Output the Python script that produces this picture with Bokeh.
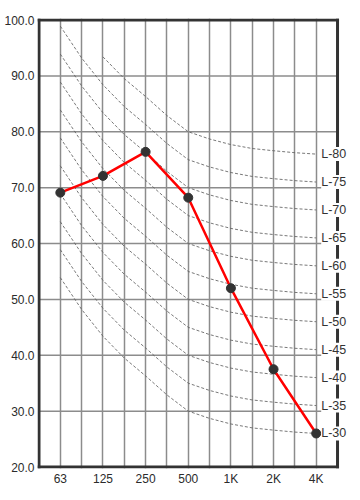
from bokeh.plotting import figure
from bokeh.models import Range1d, FixedTicker, Label, NumeralTickFormatter
from bokeh.embed import file_html
from bokeh.resources import INLINE

# ---- data -------------------------------------------------------------
bands = ["63", "125", "250", "500", "1K", "2K", "4K"]
measured = [69.1, 72.1, 76.4, 68.2, 52.0, 37.5, 26.0]

y_ticks = [20, 30, 40, 50, 60, 70, 80, 90, 100]

# L-rating reference curves, read at every band and half band
curve_x = [0, 0.5, 1, 1.5, 2, 2.5, 3, 3.5, 4, 4.5, 5, 5.5, 6]
curve_names = ["L-30", "L-35", "L-40", "L-45", "L-50", "L-55",
               "L-60", "L-65", "L-70", "L-75", "L-80"]
curve_values = [
    [53.9, 48.2, 43.4, 39.5, 36.3, 32.9, 30.0, 28.7, 27.7, 27.0, 26.6, 26.25, 26.0],
    [58.9, 53.2, 48.4, 44.5, 41.3, 37.9, 35.0, 33.7, 32.7, 32.0, 31.6, 31.25, 31.0],
    [63.9, 58.2, 53.4, 49.5, 46.3, 42.9, 40.0, 38.7, 37.7, 37.0, 36.6, 36.25, 36.0],
    [68.9, 63.2, 58.4, 54.5, 51.3, 47.9, 45.0, 43.7, 42.7, 42.0, 41.6, 41.25, 41.0],
    [73.9, 68.2, 63.4, 59.5, 56.3, 52.9, 50.0, 48.7, 47.7, 47.0, 46.6, 46.25, 46.0],
    [78.9, 73.2, 68.4, 64.5, 61.3, 57.9, 55.0, 53.7, 52.7, 52.0, 51.6, 51.25, 51.0],
    [83.9, 78.2, 73.4, 69.5, 66.3, 62.9, 60.0, 58.7, 57.7, 57.0, 56.6, 56.25, 56.0],
    [88.9, 83.2, 78.4, 74.5, 71.3, 67.9, 65.0, 63.7, 62.7, 62.0, 61.6, 61.25, 61.0],
    [93.9, 88.2, 83.4, 79.5, 76.3, 72.9, 70.0, 68.7, 67.7, 67.0, 66.6, 66.25, 66.0],
    [98.9, 93.2, 88.4, 84.5, 81.3, 77.9, 75.0, 73.7, 72.7, 72.0, 71.6, 71.25, 71.0],
    [None, None, 93.4, 89.5, 86.3, 82.9, 80.0, 78.7, 77.7, 77.0, 76.6, 76.25, 76.0],
]

# ---- geometry ---------------------------------------------------------
pos = list(range(len(bands)))
x_lo, x_hi = -0.5, len(bands) - 0.5
y_lo, y_hi = y_ticks[0], y_ticks[-1]
px_x = 299 / (x_hi - x_lo)          # pixels per band
px_y = 447 / (y_hi - y_lo)          # pixels per dB
pad = 1.5                            # room for the 3px border
room_right = 14                      # room for the curve labels
frame_w = 299 + pad + room_right
frame_h = 447 + 2 * pad

p = figure(frame_width=int(round(frame_w)), frame_height=int(round(frame_h)),
           x_range=Range1d(x_lo - pad / px_x, x_hi + (room_right) / px_x),
           y_range=Range1d(y_lo - pad / px_y, y_hi + pad / px_y),
           output_backend="svg", toolbar_location=None,
           min_border_left=37, min_border_right=0,
           min_border_top=18, min_border_bottom=4)
p.outline_line_color = None
p.background_fill_color = "white"

# axes
p.xaxis.ticker = FixedTicker(ticks=pos,
                             minor_ticks=[i + 0.5 for i in pos[:-1]])
p.xaxis.major_label_overrides = {i: b for i, b in enumerate(bands)}
p.yaxis.ticker = FixedTicker(ticks=y_ticks)
p.yaxis.formatter = NumeralTickFormatter(format="0.0")
for ax in (p.xaxis[0], p.yaxis[0]):
    ax.axis_line_color = None
    ax.major_tick_line_color = None
    ax.minor_tick_line_color = None
    ax.major_tick_out = 0
    ax.minor_tick_out = 0
    ax.major_label_text_font = "Liberation Sans"
    ax.major_label_text_font_size = "12px"
    ax.major_label_text_color = "#2b2b2b"
p.yaxis.major_label_standoff = 3
p.xaxis.major_label_standoff = 3

# grids: vertical via the axis grid, horizontal as segments inside the frame
p.xgrid.grid_line_color = "#8c8c8c"
p.xgrid.grid_line_width = 1.5
p.xgrid.minor_grid_line_color = "#8c8c8c"
p.xgrid.minor_grid_line_width = 1.5
p.ygrid.grid_line_color = None
inner = y_ticks[1:-1]
p.segment(x0=[x_lo] * len(inner), x1=[x_hi] * len(inner), y0=inner, y1=inner,
          line_color="#8c8c8c", line_width=1.5)

# reference curves
for vals in curve_values:
    cx = [x for x, v in zip(curve_x, vals) if v is not None]
    cy = [v for v in vals if v is not None]
    p.line(cx, cy, line_color="#606060", line_width=1, line_dash="3 2",
           line_alpha=0.85)

# measured line
p.line(pos, measured, line_color="#ff0000", line_width=2.5)
p.scatter(pos, measured, size=9, fill_color="#333333", line_color="#333333")

# frame borders
p.segment(x0=[x_lo, x_lo, x_lo, x_hi], x1=[x_hi, x_hi, x_lo, x_hi],
          y0=[y_lo, y_hi, y_lo, y_lo], y1=[y_lo, y_hi, y_hi, y_hi],
          line_color="#333333", line_width=3, line_cap="square")

# curve labels
for name, vals in zip(curve_names, curve_values):
    p.add_layout(Label(x=curve_x[-1], y=vals[-1], text=name,
                       x_offset=5, text_align="left", text_baseline="middle",
                       text_font="Liberation Sans", text_font_size="12.5px",
                       text_color="#333333",
                       background_fill_color="white",
                       background_fill_alpha=1.0))

open("out.html", "w").write(file_html(p, INLINE))
